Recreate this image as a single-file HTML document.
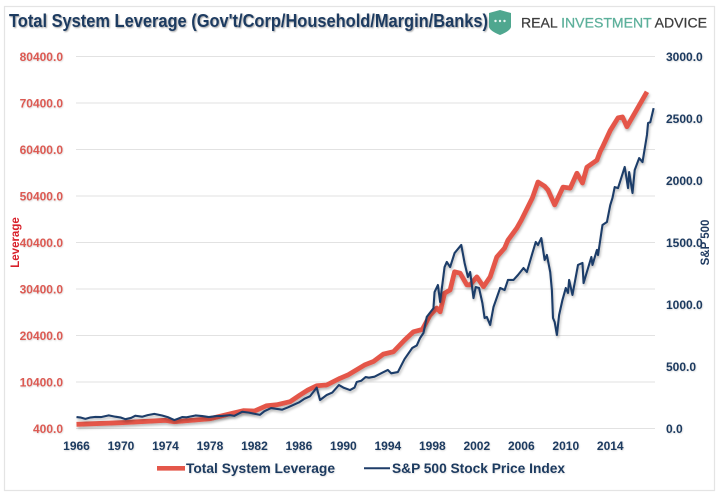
<!DOCTYPE html>
<html lang="en">
<head>
<meta charset="utf-8">
<title>Total System Leverage</title>
<style>
html,body{margin:0;padding:0;background:#fff;}
svg{display:block;font-family:"Liberation Sans",sans-serif;}
</style>
</head>
<body>
<svg id="chart" width="722" height="497" viewBox="0 0 722 497" xmlns="http://www.w3.org/2000/svg">
  <defs>
    <filter id="shadow" x="-10%" y="-10%" width="120%" height="125%">
      <feDropShadow dx="1" dy="2" stdDeviation="1.4" flood-color="#000" flood-opacity="0.28"/>
    </filter>
    <filter id="text-shadow" x="-5%" y="-20%" width="110%" height="150%">
      <feDropShadow dx="1" dy="1" stdDeviation="0.9" flood-color="#000" flood-opacity="0.35"/>
    </filter>
    <filter id="soft-shadow" x="-5%" y="-20%" width="110%" height="150%">
      <feDropShadow dx="0.6" dy="0.8" stdDeviation="0.8" flood-color="#000" flood-opacity="0.16"/>
    </filter>
  </defs>
  <rect x="4.5" y="6.5" width="710" height="484" fill="#fff" stroke="#e4e4e4" stroke-width="1.2"/>
  <g id="grid"></g>
  <g id="left-axis" filter="url(#soft-shadow)"></g>
  <g id="right-axis" filter="url(#soft-shadow)"></g>
  <g id="x-axis" filter="url(#soft-shadow)"></g>
  <path id="leverage-line" fill="none" stroke="#e4574a" stroke-width="4.8" stroke-linejoin="round" stroke-linecap="butt" filter="url(#shadow)"/>
  <path id="sp-line" fill="none" stroke="#1f3d69" stroke-width="2.1" stroke-linejoin="round" filter="url(#shadow)"/>

  <text x="9" y="27" font-size="18" font-weight="700" fill="#1f3a60" textLength="479" lengthAdjust="spacingAndGlyphs" filter="url(#text-shadow)">Total System Leverage (Gov't/Corp/Household/Margin/Banks)</text>

  <g>
    <path d="M489 13 L500 10 L511 13 L511 27 Q510 31 500 35 Q490 31 489 27 Z" fill="#4fa78f"/>
    <circle cx="495.5" cy="21" r="1.2" fill="#e8f5f1"/>
    <circle cx="500" cy="21" r="1.2" fill="#e8f5f1"/>
    <circle cx="504.5" cy="21" r="1.2" fill="#e8f5f1"/>
    <text x="521" y="27.5" font-size="13.5" textLength="186" lengthAdjust="spacingAndGlyphs" fill="#3d3d3d" stroke="#3d3d3d" stroke-width="0.25">REAL <tspan fill="#5db09b" stroke="#5db09b">INVESTMENT</tspan> ADVICE</text>
  </g>

  <text transform="translate(19,242.5) rotate(-90)" text-anchor="middle" font-size="11.5" font-weight="700" fill="#d8202a">Leverage</text>
  <text transform="translate(709,242.5) rotate(-90)" text-anchor="middle" font-size="11.5" font-weight="700" fill="#1f3a60">S&amp;P 500</text>

  <g>
    <line x1="157" x2="185" y1="468.3" y2="468.3" stroke="#e4574a" stroke-width="4.6"/>
    <text x="186" y="473" font-size="13.5" font-weight="700" fill="#1f3a60" textLength="149" lengthAdjust="spacingAndGlyphs" filter="url(#soft-shadow)">Total System Leverage</text>
    <line x1="364" x2="390" y1="468.3" y2="468.3" stroke="#1f3d69" stroke-width="2"/>
    <text x="392" y="473" font-size="13.5" font-weight="700" fill="#1f3a60" textLength="173" lengthAdjust="spacingAndGlyphs" filter="url(#soft-shadow)">S&amp;P 500 Stock Price Index</text>
  </g>
</svg>
<script>
const yearTicks = [1966,1970,1974,1978,1982,1986,1990,1994,1998,2002,2006,2010,2014];
const leftTicks = [400,10400,20400,30400,40400,50400,60400,70400,80400];
const rightTicks = [0,500,1000,1500,2000,2500,3000];

const leverageYears = [1966,1970,1974,1974.8,1978,1980,1981,1982,1983.1,1984,1985.2,1986.1,1986.8,1987.6,1988.5,1989.7,1990.4,1991.9,1992.7,1993.6,1994.5,1995.5,1996.3,1997.1,1997.8,1998.4,1998.7,1999.1,1999.6,2000,2000.5,2001.1,2001.4,2002,2002.6,2003.2,2003.8,2004.5,2004.8,2005.6,2006,2007,2007.5,2008.1,2008.4,2009,2009.75,2010.4,2011,2011.5,2011.9,2012.8,2013.1,2013.3,2014,2014.7,2015.1,2015.5,2016.2,2017.3];
const leverageValues = [1300,1650,2160,1860,2500,3670,4230,4160,5300,5500,6160,7600,8660,9600,9750,11200,11900,14050,14800,16400,16900,19400,21200,21700,24800,26300,25500,29500,30200,34100,33800,31300,31300,33000,30900,33000,37300,39200,40900,43500,45200,50000,53400,52500,51700,48500,52300,52100,55300,53200,56600,58100,60000,60900,64500,67200,67400,65300,68200,72800];

const spYears = [1966,1966.4,1966.8,1967.2,1967.7,1968.2,1968.9,1969.5,1970.0,1970.4,1970.9,1971.3,1971.9,1972.4,1973,1973.7,1974.2,1974.8,1975.1,1975.5,1975.9,1976.7,1977.3,1977.9,1978.6,1979,1979.8,1980.2,1980.9,1981.5,1982.5,1982.9,1983.5,1984.5,1985,1985.5,1986,1986.5,1987,1987.6,1987.9,1988.5,1989,1989.6,1990,1990.6,1991,1991.2,1991.6,1992,1992.3,1992.8,1993.5,1994,1994.3,1994.9,1995.5,1996.2,1996.6,1996.9,1997.2,1997.5,1998.1,1998.2,1998.5,1998.7,1999.1,1999.3,1999.6,2000,2000.6,2000.9,2001.2,2001.4,2001.7,2001.9,2002.2,2002.5,2002.7,2002.9,2003.2,2003.5,2004.1,2004.5,2004.8,2005.3,2005.7,2006.2,2006.5,2007,2007.3,2007.5,2007.8,2008.1,2008.3,2008.6,2008.75,2008.85,2009,2009.2,2009.4,2009.7,2010,2010.2,2010.3,2010.6,2011.1,2011.5,2011.6,2012.3,2012.4,2012.8,2012.9,2013.3,2013.7,2014,2014.2,2014.4,2014.7,2015.3,2015.6,2015.7,2016,2016.2,2016.6,2016.9,2017.3,2017.4,2017.6,2017.9];
const spValues = [92,88,78,88,93,92,106,95,88,75,85,103,95,108,118,105,92,68,78,92,90,105,100,92,100,100,108,102,135,128,110,140,165,152,170,190,210,240,260,330,230,270,290,350,330,310,330,375,385,415,410,418,450,472,445,455,560,650,670,730,770,900,970,1100,1157,1020,1302,1343,1302,1415,1480,1335,1222,1262,1052,1141,1133,1012,891,899,835,980,1133,1117,1198,1198,1238,1294,1262,1415,1504,1480,1536,1359,1399,1262,1117,891,859,754,915,1036,1133,1093,1198,1077,1319,1335,1173,1383,1319,1440,1399,1641,1665,1802,1859,1947,1939,2109,1939,2068,1899,2085,2181,2149,2367,2464,2470,2584];

const NS = 'http://www.w3.org/2000/svg';
const xOf = year => 76.5 + (year - 1966) * 11.12;
const yLeft = v => 428.5 - (v - 400) * 372 / 80000;
const yRight = v => 428.5 - v * 372 / 3000;

function makeText(parent, x, y, anchor, fill, content) {
  const t = document.createElementNS(NS, 'text');
  t.setAttribute('x', x);
  t.setAttribute('y', y);
  t.setAttribute('text-anchor', anchor);
  t.setAttribute('font-size', '12');
  t.setAttribute('font-weight', '700');
  t.setAttribute('fill', fill);
  t.textContent = content;
  parent.appendChild(t);
  return t;
}

const gridGroup = document.getElementById('grid');
const leftGroup = document.getElementById('left-axis');
const rightGroup = document.getElementById('right-axis');
const xGroup = document.getElementById('x-axis');

leftTicks.forEach(v => {
  const l = document.createElementNS(NS, 'line');
  
  
  l.setAttribute('x1', 76);
  l.setAttribute('x2', 655);
  l.setAttribute('y1', yLeft(v));
  l.setAttribute('y2', yLeft(v));
  l.setAttribute('stroke', '#e2e2e2');
  l.setAttribute('stroke-width', '1');
  gridGroup.appendChild(l);
  const t = makeText(leftGroup, 63, yLeft(v) + 4.3, 'end', '#dc5a52', v.toFixed(1));
  
  
});

rightTicks.forEach(v => {
  const t = makeText(rightGroup, 666, yRight(v) + 4.3, 'start', '#1f3a60', v.toFixed(1));
  
  
});

yearTicks.forEach(y => {
  const t = makeText(xGroup, xOf(y), 450, 'middle', '#1f3a60', String(y));
  
  
});

function pathFrom(xs, ys, yFn) {
  return xs.map((x, i) => (i ? 'L' : 'M') + xOf(x).toFixed(2) + ' ' + yFn(ys[i]).toFixed(2)).join(' ');
}
document.getElementById('leverage-line').setAttribute('d', pathFrom(leverageYears, leverageValues, yLeft));
document.getElementById('sp-line').setAttribute('d', pathFrom(spYears, spValues, yRight));
</script>
</body>
</html>
